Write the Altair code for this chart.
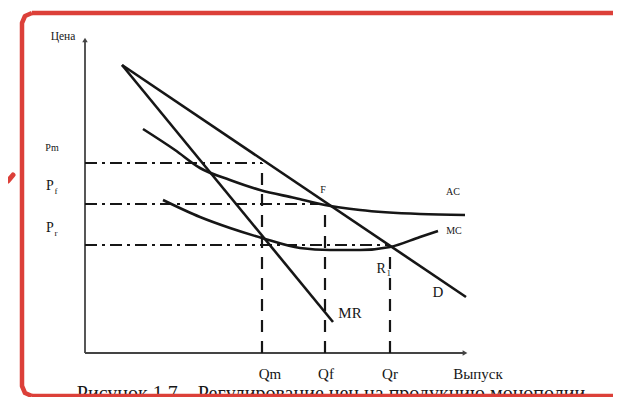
import altair as alt
import pandas as pd

# ---- values (Q = output, P = price, arbitrary units) ----
d_q = [1.48, 15.24]
d_p = [11.52, 2.24]
mr_q = [1.48, 9.92]
mr_p = [11.52, 1.24]
ac_q = [2.32, 3.6, 4.6, 5.8, 7.0, 8.4, 9.6, 11.0, 13.4, 15.2]
ac_p = [8.96, 8.12, 7.4, 6.92, 6.52, 6.2, 5.92, 5.72, 5.56, 5.52]
mc_q = [3.12, 4.6, 5.8, 7.08, 8.6, 9.8, 11.0, 12.2, 13.4, 14.12]
mc_p = [6.12, 5.44, 5.0, 4.6, 4.2, 4.12, 4.12, 4.24, 4.64, 4.88]

level_q = [7.08, 9.6, 12.2]        # Qm, Qf, Qr
level_p = [7.6, 5.96, 4.32]        # Pm, Pf, Pr
drop_top = [7.6, 5.96, 4.12]       # top of the vertical dashed drops

axis_top = 12.52
axis_right = 15.2

# text labels
big_text = ["Qm", "Qf", "Qr", "Выпуск", "D", "MR"]
big_q = [7.4, 9.64, 12.2, 15.72, 14.12, 10.6]
big_p = [-0.85, -0.85, -0.85, -0.85, 2.44, 1.6]

small_text = ["F", "AC", "MC", "Цена", "Pm"]
small_q = [9.52, 14.72, 14.76, -0.88, -1.32]
small_p = [6.52, 6.44, 4.88, 12.64, 8.2]
small_size = [10, 10, 10, 11.5, 10]

p_text = ["P", "P", "R"]
p_q = [-1.4, -1.4, 11.85]
p_p = [6.68, 5.0, 3.36]
sub_text = ["f", "r", "1"]
sub_q = [-1.16, -1.16, 12.15]
sub_p = [6.5, 4.82, 3.2]

caption = "Рисунок 1.7 – Регулирование цен на продукцию монополии"
caption_q = 9.84
caption_p = -1.63

# scan border decoration: left edge with rounded corners, top and bottom edges
frame_q = [-2.12, -2.4, -2.52, -2.52, -2.4, -2.12]
frame_p = [-1.72, -1.6, -1.32, 13.2, 13.48, 13.6]
edge_q0 = [-2.12, -2.12]
edge_q1 = [21.12, 21.12]
edge_p = [13.6, -1.72]
check_q = [-3.08, -2.88]
check_p = [6.88, 7.12]

X = alt.Scale(domain=[-3.08, 21.12], nice=False, zero=False)
Y = alt.Scale(domain=[-1.76, 13.8], nice=False, zero=False)
FONT = "Liberation Serif"
INK = "#161616"
RED = "#dc4039"

curves = pd.concat([
    pd.DataFrame({"s": "D", "q": d_q, "p": d_p}),
    pd.DataFrame({"s": "MR", "q": mr_q, "p": mr_p}),
    pd.DataFrame({"s": "AC", "q": ac_q, "p": ac_p}),
    pd.DataFrame({"s": "MC", "q": mc_q, "p": mc_p}),
])

lines = alt.Chart(curves).mark_line(color=INK, strokeWidth=2.6, interpolate="monotone").encode(
    x=alt.X("q:Q", scale=X, axis=None),
    y=alt.Y("p:Q", scale=Y, axis=None),
    detail="s:N",
)

lev = pd.DataFrame({"q": level_q, "p": level_p, "top": drop_top, "zero": [0, 0, 0]})
hguides = alt.Chart(lev).mark_rule(color=INK, strokeWidth=2, strokeDash=[12, 5, 3, 5]).encode(
    x=alt.X("zero:Q", scale=X, axis=None), x2="q:Q",
    y=alt.Y("p:Q", scale=Y, axis=None),
)
vguides = alt.Chart(lev).mark_rule(color=INK, strokeWidth=2.2, strokeDash=[12, 9]).encode(
    x=alt.X("q:Q", scale=X, axis=None),
    y=alt.Y("zero:Q", scale=Y, axis=None), y2="top:Q",
)

axes_df = pd.DataFrame({"x0": [0, 0], "x1": [0, axis_right], "y0": [0, 0], "y1": [axis_top, 0]})
axes = alt.Chart(axes_df).mark_rule(color="#444", strokeWidth=1.8).encode(
    x=alt.X("x0:Q", scale=X, axis=None), x2="x1:Q",
    y=alt.Y("y0:Q", scale=Y, axis=None), y2="y1:Q",
)
arrow_up = alt.Chart(pd.DataFrame({"q": [0], "p": [axis_top]})).mark_point(
    shape="triangle-up", filled=True, color="#444", size=30, opacity=1).encode(
    x=alt.X("q:Q", scale=X, axis=None), y=alt.Y("p:Q", scale=Y, axis=None))
arrow_right = alt.Chart(pd.DataFrame({"q": [axis_right], "p": [0]})).mark_point(
    shape="triangle-right", filled=True, color="#444", size=30, opacity=1).encode(
    x=alt.X("q:Q", scale=X, axis=None), y=alt.Y("p:Q", scale=Y, axis=None))


def text_layer(texts, qs, ps, size, align="center"):
    df = pd.DataFrame({"t": texts, "q": qs, "p": ps, "s": size if isinstance(size, list) else [size] * len(texts)})
    return alt.Chart(df).mark_text(font=FONT, color=INK, align=align, baseline="middle").encode(
        x=alt.X("q:Q", scale=X, axis=None), y=alt.Y("p:Q", scale=Y, axis=None), text="t:N",
        size=alt.Size("s:Q", scale=None, legend=None))


big = text_layer(big_text, big_q, big_p, 15)
small = text_layer(small_text, small_q, small_p, small_size)
pl = text_layer(p_text, p_q, p_p, 14)
sub = text_layer(sub_text, sub_q, sub_p, 9)
cap = text_layer([caption], [caption_q], [caption_p], 20)

frame_df = pd.DataFrame({"q": frame_q, "p": frame_p, "i": list(range(len(frame_q)))})
frame = alt.Chart(frame_df).mark_line(color=RED, strokeWidth=4.5, strokeJoin="round").encode(
    x=alt.X("q:Q", scale=X, axis=None), y=alt.Y("p:Q", scale=Y, axis=None), order="i:Q")
edges = alt.Chart(pd.DataFrame({"q0": edge_q0, "q1": edge_q1, "p": edge_p})).mark_rule(
    color=RED, strokeWidth=4.5).encode(
    x=alt.X("q0:Q", scale=X, axis=None), x2="q1:Q", y=alt.Y("p:Q", scale=Y, axis=None))
check = alt.Chart(pd.DataFrame({"q": check_q, "p": check_p})).mark_line(
    color=RED, strokeWidth=5, strokeCap="round").encode(
    x=alt.X("q:Q", scale=X, axis=None), y=alt.Y("p:Q", scale=Y, axis=None))

chart = alt.layer(
    axes, arrow_up, arrow_right, hguides, vguides, lines,
    big, small, pl, sub, cap, frame, edges, check,
).properties(
    width=605, height=389, padding=0,
    autosize=alt.AutoSizeParams(type="none"),
    background="white",
).configure_view(stroke=None)

chart.save("out.html", embed_options={"renderer": "svg", "actions": False})
